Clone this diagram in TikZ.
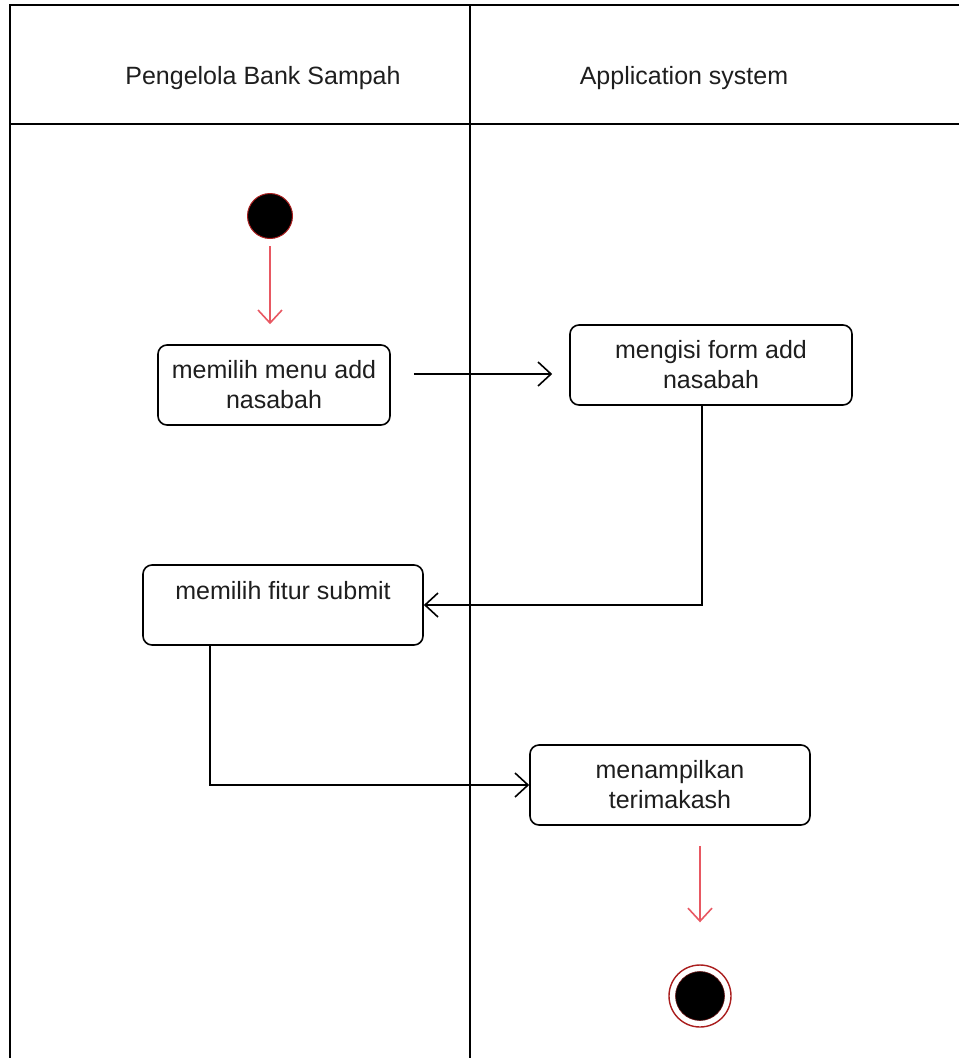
\documentclass[tikz,border=0pt]{standalone}
\usepackage{fontspec}
\setmainfont{Liberation Sans}
\usetikzlibrary{arrows.meta,calc}
\definecolor{flowred}{RGB}{232,88,98}
\definecolor{ringred}{RGB}{170,30,30}
\definecolor{inkgrey}{RGB}{30,30,30}
\begin{document}
\begin{tikzpicture}[x=1pt,y=-1pt,
  lane/.style={draw=black,line width=1.8pt},
  lanetitle/.style={font=\fontsize{25}{30}\selectfont,text=inkgrey,inner sep=0pt},
  activity/.style={draw=black,line width=1.6pt,rounded corners=9pt,fill=white,
    align=center,inner sep=0pt,minimum height=80pt,
    font=\fontsize{25}{30}\selectfont,text=inkgrey},
  startnode/.style={circle,fill=black,draw=ringred,line width=1pt,
    minimum size=45pt,inner sep=0pt},
  endring/.style={circle,draw=ringred,line width=1.4pt,fill=white,
    minimum size=62pt,inner sep=0pt},
  endcore/.style={circle,fill=black,draw=ringred!60!black,line width=0.6pt,
    minimum size=49pt,inner sep=0pt},
  flow/.style={draw=black,line width=1.6pt,
    -{Straight Barb[length=13pt,width=24pt,line width=1.6pt]}},
  redflow/.style={draw=flowred,line width=1.6pt,
    -{Straight Barb[length=13pt,width=24pt,line width=1.6pt]}},
]
\useasboundingbox (0,0) rectangle (959,1058);

% swimlane frame
\draw[lane] (959,5) -- (10,5) -- (10,1058);
\draw[lane] (10,124) -- (959,124);
\draw[lane] (470,5) -- (470,1058);
\node[lanetitle] (laneA) at (263,78) {Pengelola Bank Sampah};
\node[lanetitle] (laneB) at (684,78) {Application system};

% nodes
\node[startnode] (start) at (270,216) {};
\node[activity,minimum width=232pt] (a1) at (274,385) {memilih menu add\\nasabah};
\node[activity,minimum width=282pt] (a2) at (711,365) {mengisi form add\\nasabah};
\node[activity,minimum width=280pt] (a3) at (283,605) {memilih fitur submit\\\mbox{}};
\node[activity,minimum width=280pt] (a4) at (670,785) {menampilkan\\terimakash};
\node[endring] (stop) at (700,996) {};
\node[endcore] (stopcore) at (stop.center) {};

% control flow
\draw[redflow,shorten <=7pt,shorten >=20pt] (start.south) -- (start.south |- a1.north);
\draw[flow] ($(a1.east)+(23,-11)$) -- ($(a2.west)+(-17,9)$);
\draw[flow] ([xshift=-9pt]a2.south) |- (a3.east);
\draw[flow] ([xshift=-73pt]a3.south) |- (a4.west);
\draw[redflow,shorten <=20pt,shorten >=42pt] (stop.north |- a4.south) -- (stop.north);
\end{tikzpicture}
\end{document}
